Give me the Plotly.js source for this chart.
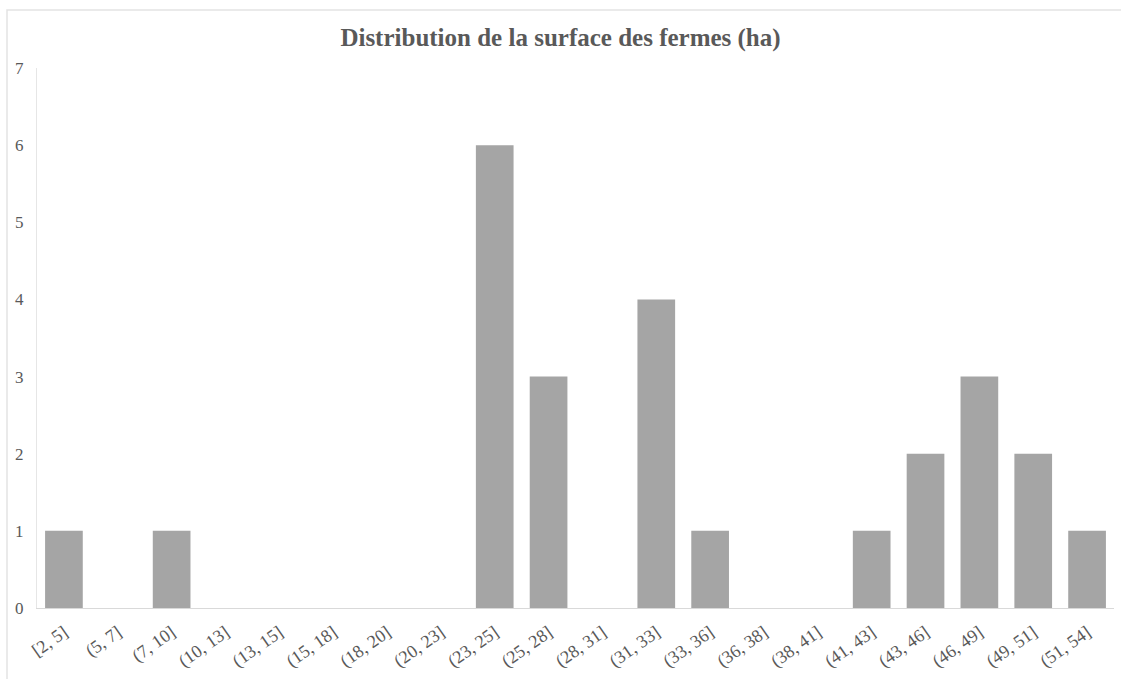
<!DOCTYPE html>
<html>
<head>
<meta charset="utf-8">
<script src="https://cdn.plot.ly/plotly-3.0.1.min.js"></script>
<style>
  html, body { margin: 0; padding: 0; background: #ffffff; }
  #chart { width: 1121px; height: 679px; }
</style>
</head>
<body>
<div id="chart"></div>
<script>
// Farm surface classes (ha) and number of farms in each class
const classes = ["[2, 5]", "(5, 7]", "(7, 10]", "(10, 13]", "(13, 15]", "(15, 18]", "(18, 20]",
  "(20, 23]", "(23, 25]", "(25, 28]", "(28, 31]", "(31, 33]", "(33, 36]", "(36, 38]",
  "(38, 41]", "(41, 43]", "(43, 46]", "(46, 49]", "(49, 51]", "(51, 54]"];
const counts = [1, 0, 1, 0, 0, 0, 0, 0, 6, 3, 0, 4, 1, 0, 0, 1, 2, 3, 2, 1];
const yTicks = [0, 1, 2, 3, 4, 5, 6, 7];

const serif = "'Liberation Serif', 'Times New Roman', serif";
const textGrey = "#595959";

const trace = {
  type: "bar",
  x: classes,
  y: counts,
  marker: { color: "#a5a5a5" },
  hoverinfo: "x+y"
};

const layout = {
  width: 1121,
  height: 679,
  margin: { l: 37, r: 7, t: 68, b: 71 },
  paper_bgcolor: "#ffffff",
  plot_bgcolor: "#ffffff",
  bargap: 0.3,
  showlegend: false,
  font: { family: serif, color: textGrey },
  title: {
    text: "Distribution de la surface des fermes (ha)",
    font: { family: serif, size: 25, color: textGrey, weight: "bold" },
    x: 0.5,
    xanchor: "center",
    y: 1 - 37 / 679,
    yanchor: "middle"
  },
  xaxis: {
    type: "category",
    tickangle: -35,
    tickfont: { family: serif, size: 18, color: textGrey },
    showline: true,
    linecolor: "#d9d9d9",
    linewidth: 1,
    showgrid: false,
    ticks: "",
    ticklabelstandoff: 6,
    fixedrange: true
  },
  yaxis: {
    range: [0, 7],
    tickvals: yTicks,
    tickfont: { family: serif, size: 17, color: textGrey },
    showline: true,
    linecolor: "#e6e6e6",
    linewidth: 1,
    showgrid: false,
    zeroline: false,
    ticks: "",
    ticklabelstandoff: 9,
    fixedrange: true
  },
  shapes: [{
    // light frame around the whole chart area
    type: "rect",
    xref: "paper", yref: "paper",
    x0: (7 - 37) / 1077, x1: (1125 - 37) / 1077,
    y0: (608 - 690) / 540, y1: (608 - 10) / 540,
    line: { color: "#e3e3e3", width: 1.5 },
    fillcolor: "rgba(0,0,0,0)",
    layer: "below"
  }]
};

Plotly.newPlot("chart", [trace], layout, { displayModeBar: false, staticPlot: true });
</script>
</body>
</html>
